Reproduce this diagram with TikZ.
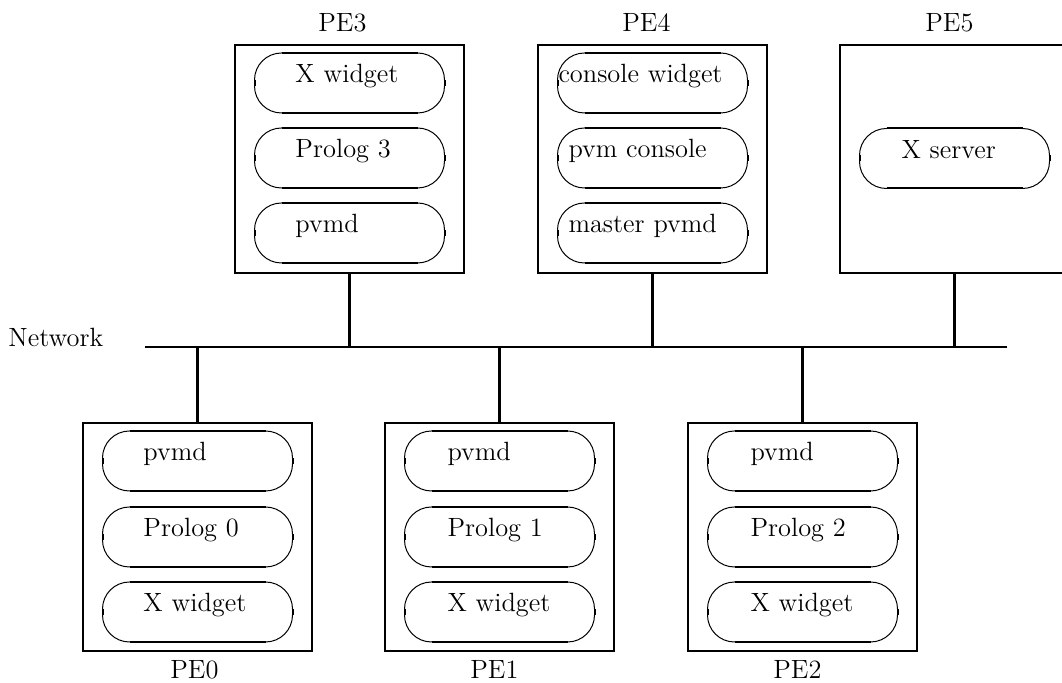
\documentclass[tikz,border=0pt]{standalone}
\usetikzlibrary{calc}

% Frame of a process oval: thin quarter circles, heavy straight parts
\newcommand\procframe[1]{%
  \draw[arcline] (#1.south west) rectangle (#1.north east);
  \draw[flatline] ([xshift=13.5pt]#1.north west) -- ([xshift=-13.5pt]#1.north east);
  \draw[flatline] ([xshift=13.5pt]#1.south west) -- ([xshift=-13.5pt]#1.south east);
  \draw[flatline] ([yshift=1.5pt]#1.west) -- ([yshift=-1.5pt]#1.west);
  \draw[flatline] ([yshift=1.5pt]#1.east) -- ([yshift=-1.5pt]#1.east);
}

\begin{document}
\begin{tikzpicture}[x=0.5pt, y=-0.5pt,
  every node/.style={font=\fontsize{13.2pt}{15.8pt}\selectfont},
  pebox/.style={draw, line width=1.25pt, minimum width=114.5pt, minimum height=114pt,
                inner sep=0pt, outer sep=0pt},
  proc/.style={minimum width=95pt, minimum height=30pt, text width=95pt, align=left,
               inner sep=0pt, outer sep=0pt, text height=0pt, text depth=0pt},
  arcline/.style={line width=0.5pt, rounded corners=13.5pt},
  flatline/.style={line width=1pt},
  wire/.style={line width=1.25pt},
  pelabel/.style={anchor=base west, inner sep=0pt},
]
\useasboundingbox (0,0) rectangle (1062,683);
\clip (0,0) rectangle (1062,683);

% processing elements
\node[pebox] (pe3) at (349.5,159) {};
\node[pebox] (pe4) at (652.5,159) {};
\node[pebox] (pe5) at (954.5,159) {};
\node[pebox] (pe0) at (197.5,537) {};
\node[pebox] (pe1) at (499.5,537) {};
\node[pebox] (pe2) at (802.5,537) {};

% names of the processing elements
\node[pelabel] (pe3l) at ($(pe3.north west)+(83,-13)$) {PE3};
\node[pelabel] (pe4l) at ($(pe4.north west)+(84,-13)$) {PE4};
\node[pelabel] (pe5l) at ($(pe5.north west)+(85,-13)$) {PE5};
\node[pelabel] (pe0l) at ($(pe0.south west)+(87,28)$) {PE0};
\node[pelabel] (pe1l) at ($(pe1.south west)+(85,28)$) {PE1};
\node[pelabel] (pe2l) at ($(pe2.south west)+(85,28)$) {PE2};

% processes on PE3
\node[proc] (p3a) at (349.5,83)  {\hspace*{20.5pt}X widget};
\node[proc] (p3b) at (349.5,158) {\hspace*{20.5pt}Prolog 3};
\node[proc] (p3c) at (349.5,233) {\hspace*{20.5pt}pvmd};
% processes on PE4
\node[proc] (p4a) at (652.5,83)  {\hspace*{0.5pt}console widget};
\node[proc] (p4b) at (652.5,158) {\hspace*{5.5pt}pvm console};
\node[proc] (p4c) at (652.5,233) {\hspace*{5.5pt}master pvmd};
% process on PE5
\node[proc] (p5a) at (954.5,158.5) {\hspace*{21pt}X server};
% processes on PE0
\node[proc] (p0a) at (197.5,461) {\hspace*{20.5pt}pvmd};
\node[proc] (p0b) at (197.5,537) {\hspace*{20.5pt}Prolog 0};
\node[proc] (p0c) at (197.5,612) {\hspace*{20.5pt}X widget};
% processes on PE1
\node[proc] (p1a) at (499.5,461) {\hspace*{21.5pt}pvmd};
\node[proc] (p1b) at (499.5,537) {\hspace*{21.5pt}Prolog 1};
\node[proc] (p1c) at (499.5,612) {\hspace*{21.5pt}X widget};
% processes on PE2
\node[proc] (p2a) at (802.5,461) {\hspace*{21.5pt}pvmd};
\node[proc] (p2b) at (802.5,537) {\hspace*{21.5pt}Prolog 2};
\node[proc] (p2c) at (802.5,612) {\hspace*{21.5pt}X widget};

\procframe{p3a}\procframe{p3b}\procframe{p3c}
\procframe{p4a}\procframe{p4b}\procframe{p4c}
\procframe{p5a}
\procframe{p0a}\procframe{p0b}\procframe{p0c}
\procframe{p1a}\procframe{p1b}\procframe{p1c}
\procframe{p2a}\procframe{p2b}\procframe{p2c}

% network bus
\node[pelabel] (netlabel) at (8,347) {Network};
\coordinate (netl) at (145,347);
\coordinate (netr) at (1007,347);
\draw[wire] (netl) -- (netr);

% attachments to the bus
\draw[wire] (pe3.south) -- (pe3.south |- netl);
\draw[wire] (pe4.south) -- (pe4.south |- netl);
\draw[wire] (pe5.south) -- (pe5.south |- netl);
\draw[wire] (pe0.north) -- (pe0.north |- netl);
\draw[wire] (pe1.north) -- (pe1.north |- netl);
\draw[wire] (pe2.north) -- (pe2.north |- netl);
\end{tikzpicture}
\end{document}
